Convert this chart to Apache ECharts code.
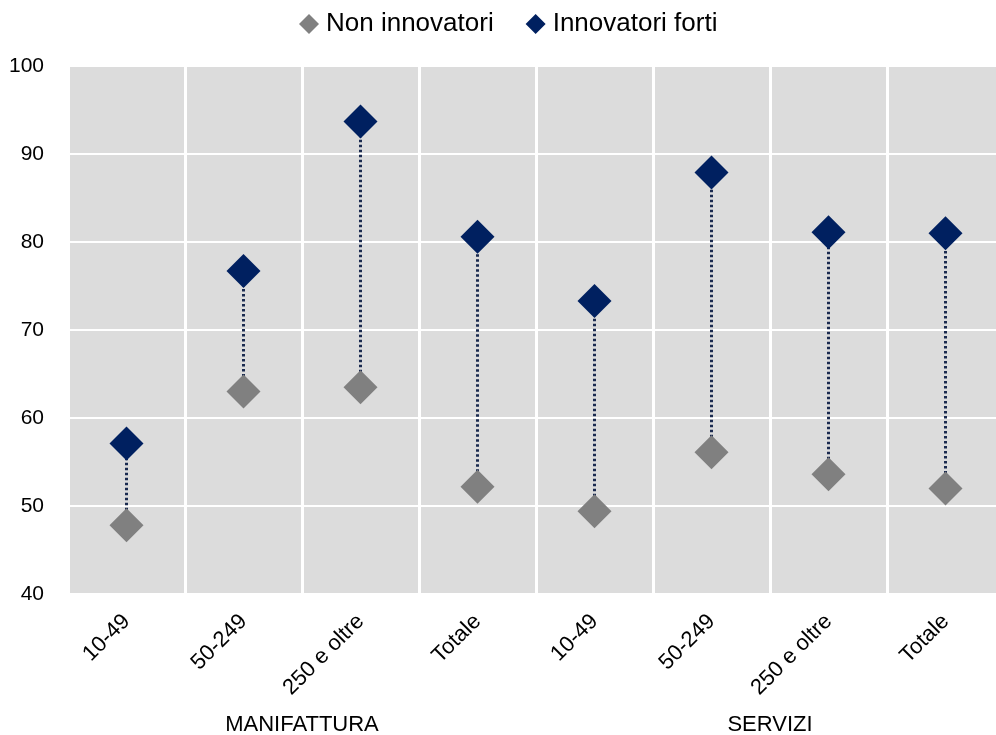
<!DOCTYPE html>
<html><head><meta charset="utf-8">
<script src="https://cdn.jsdelivr.net/npm/echarts@6/dist/echarts.min.js"></script>
<style>html,body{margin:0;padding:0;background:#fff;overflow:hidden}#c{width:996px;height:735px}</style>
</head><body><div id="c"></div>
<script>
var categories = ["10-49","50-249","250 e oltre","Totale","10-49","50-249","250 e oltre","Totale"];
var groups = ["MANIFATTURA","SERVIZI"];
var nonInnovatori = [47.8, 63.0, 63.5, 52.2, 49.4, 56.1, 53.6, 52.0];
var innovatoriForti = [57.1, 76.7, 93.7, 80.6, 73.3, 87.9, 81.1, 81.0];
var FONT = "'Liberation Sans Narrow','Liberation Sans',Arial,sans-serif";

var chart = echarts.init(document.getElementById('c'));
var rangeData = categories.map(function(c, i){ return [i, nonInnovatori[i], innovatoriForti[i]]; });
chart.setOption({
  animation: false,
  legend: {
    top: 6, left: 294, itemGap: 32, itemWidth: 20, itemHeight: 20,
    textStyle: {fontFamily: FONT, fontSize: 26, color: '#000', padding: [0,0,0,2]},
    data: [{name:'Non innovatori', icon:'diamond'},{name:'Innovatori forti', icon:'diamond'}]
  },
  grid: {left: 68, top: 66, width: 936, bottom: 141, outerBoundsMode: 'none', containLabel: false,
    show: true, backgroundColor: '#dcdcdc', borderWidth: 0},
  xAxis: [{
    type: 'category', data: categories, boundaryGap: true,
    axisLine: {show: false}, axisTick: {show: false},
    splitLine: {show: true, lineStyle: {color: '#fff', width: 3}},
    axisLabel: {rotate: 45, margin: 24, fontFamily: FONT, fontSize: 22, color: '#000', interval: 0}
  },{
    type: 'category', data: groups, position: 'bottom', offset: 112,
    axisLine: {show: false}, axisTick: {show: false}, splitLine: {show: false},
    axisLabel: {fontFamily: FONT, fontSize: 22, color: '#000', interval: 0}
  }],
  yAxis: {
    type: 'value', min: 40, max: 100, interval: 10,
    axisLine: {show: false}, axisTick: {show: false},
    splitLine: {lineStyle: {color: '#fff', width: 2}},
    axisLabel: {fontFamily: FONT, fontSize: 21, color: '#000', margin: 24}
  },
  series: [{
    type: 'custom', name: 'range', silent: true, z: 1,
    data: rangeData,
    renderItem: function(params, api){
      var p1 = api.coord([api.value(0), api.value(1)]);
      var p2 = api.coord([api.value(0), api.value(2)]);
      return {type: 'line', shape: {x1: p1[0], y1: p1[1], x2: p2[0], y2: p2[1]},
        style: {stroke: '#1a2a4f', lineWidth: 3, lineDash: [2.5, 2.5]}};
    }
  },{
    type: 'scatter', name: 'Non innovatori', symbol: 'diamond', symbolSize: 34, z: 3,
    itemStyle: {color: '#808080', opacity: 1}, data: nonInnovatori
  },{
    type: 'scatter', name: 'Innovatori forti', symbol: 'diamond', symbolSize: 34, z: 4,
    itemStyle: {color: '#002060', opacity: 1}, data: innovatoriForti
  }]
});
</script></body></html>
